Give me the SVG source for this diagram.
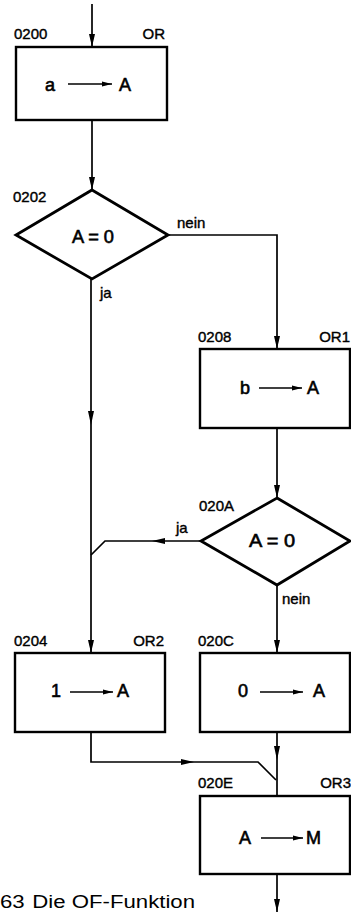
<svg xmlns="http://www.w3.org/2000/svg" width="351" height="912" viewBox="0 0 351 912">
<style>
.box{fill:#fff;stroke:#000;stroke-width:2.4}
.dia{fill:#fff;stroke:#000;stroke-width:2.8;stroke-linejoin:miter}
.ln{fill:none;stroke:#000;stroke-width:1.7}
.ah{fill:#000;stroke:none}
.lbl{font-family:"Liberation Sans",Arial,sans-serif;font-size:15px;fill:#000;stroke:#000;stroke-width:0.4}
.txt{font-family:"Liberation Sans",Arial,sans-serif;font-size:18px;fill:#000;stroke:#000;stroke-width:0.6}
.cap{font-family:"Liberation Sans",Arial,sans-serif;font-size:17.5px;fill:#000}
.ia{fill:none;stroke:#000;stroke-width:1.6}
</style>
<defs>
<marker id="arr" markerUnits="userSpaceOnUse" markerWidth="14" markerHeight="8" refX="13" refY="4" orient="auto">
<path d="M0,1 L13,4 L0,7 Z" fill="#000"/>
</marker>
<marker id="iarr" markerUnits="userSpaceOnUse" markerWidth="11" markerHeight="6" refX="10" refY="3" orient="auto">
<path d="M0,0.6 L10,3 L0,5.4 Z" fill="#000"/>
</marker>
</defs>

<g id="connectors">
<path class="ln" d="M92,4 V47" marker-end="url(#arr)"/>
<path class="ln" d="M92,120 V190" marker-end="url(#arr)"/>
<path class="ln" d="M168,235 H277 V349" marker-end="url(#arr)"/>
<path class="ln" d="M91,279 V653" marker-end="url(#arr)"/>
<path class="ah" d="M88,411 L91,425 L94,411 Z"/>
<path class="ln" d="M277,428 V498" marker-end="url(#arr)"/>
<path class="ln" d="M200,541 H105 L91,555"/>
<path class="ah" d="M165,538 L152,541 L165,544 Z"/>
<path class="ln" d="M277,586 V653" marker-end="url(#arr)"/>
<path class="ln" d="M91,732 V762 H258 L276,780"/>
<path class="ah" d="M181,759 L194,762 L181,765 Z"/>
<path class="ln" d="M277,732 V796"/>
<path class="ah" d="M274,746 L277,760 L280,746 Z"/>
<path class="ln" d="M277,874 V912" marker-end="url(#arr)"/>
</g>

<g id="n0200">
<rect class="box" x="16" y="47" width="151" height="73"/>
<text class="lbl" x="14" y="39">0200</text>
<text class="lbl" x="165" y="39" text-anchor="end">OR</text>
<text class="txt" x="45" y="91">a</text>
<path class="ia" d="M68,84 H112" marker-end="url(#iarr)"/>
<text class="txt" x="119" y="91">A</text>
</g>

<g id="n0202">
<polygon class="dia" points="92,190 168,235 92,279 16,235"/>
<text class="lbl" x="13" y="202">0202</text>
<text class="txt" x="72" y="243" textLength="42" lengthAdjust="spacingAndGlyphs">A = 0</text>
<text class="lbl" x="177" y="228">nein</text>
<text class="lbl" x="100" y="298">ja</text>
</g>

<g id="n0208">
<rect class="box" x="200" y="349" width="150" height="79"/>
<text class="lbl" x="198" y="342">0208</text>
<text class="lbl" x="350" y="342" text-anchor="end">OR1</text>
<text class="txt" x="240" y="394">b</text>
<path class="ia" d="M259,388 H302" marker-end="url(#iarr)"/>
<text class="txt" x="307" y="394">A</text>
</g>

<g id="n020A">
<polygon class="dia" points="277,498 350,541 277,585 201,541"/>
<text class="lbl" x="199" y="511">020A</text>
<text class="txt" x="249" y="547" textLength="46" lengthAdjust="spacingAndGlyphs">A = 0</text>
<text class="lbl" x="176" y="533">ja</text>
<text class="lbl" x="282" y="604">nein</text>
</g>

<g id="n0204">
<rect class="box" x="15" y="653" width="150" height="79"/>
<text class="lbl" x="14" y="646">0204</text>
<text class="lbl" x="164" y="646" text-anchor="end">OR2</text>
<text class="txt" x="51" y="697">1</text>
<path class="ia" d="M70,692 H113" marker-end="url(#iarr)"/>
<text class="txt" x="117" y="697">A</text>
</g>

<g id="n020C">
<rect class="box" x="200" y="653" width="150" height="79"/>
<text class="lbl" x="198" y="646">020C</text>
<text class="txt" x="238" y="697">0</text>
<path class="ia" d="M260,692 H303" marker-end="url(#iarr)"/>
<text class="txt" x="313" y="697">A</text>
</g>

<g id="n020E">
<rect class="box" x="200" y="796" width="150" height="78"/>
<text class="lbl" x="198" y="788">020E</text>
<text class="lbl" x="351" y="788" text-anchor="end">OR3</text>
<text class="txt" x="239" y="844">A</text>
<path class="ia" d="M261,838 H303" marker-end="url(#iarr)"/>
<text class="txt" x="306" y="844">M</text>
</g>

<text class="cap" x="0" y="908" textLength="195" lengthAdjust="spacingAndGlyphs">63<tspan dx="6">Die OF-Funktion</tspan></text>
</svg>
